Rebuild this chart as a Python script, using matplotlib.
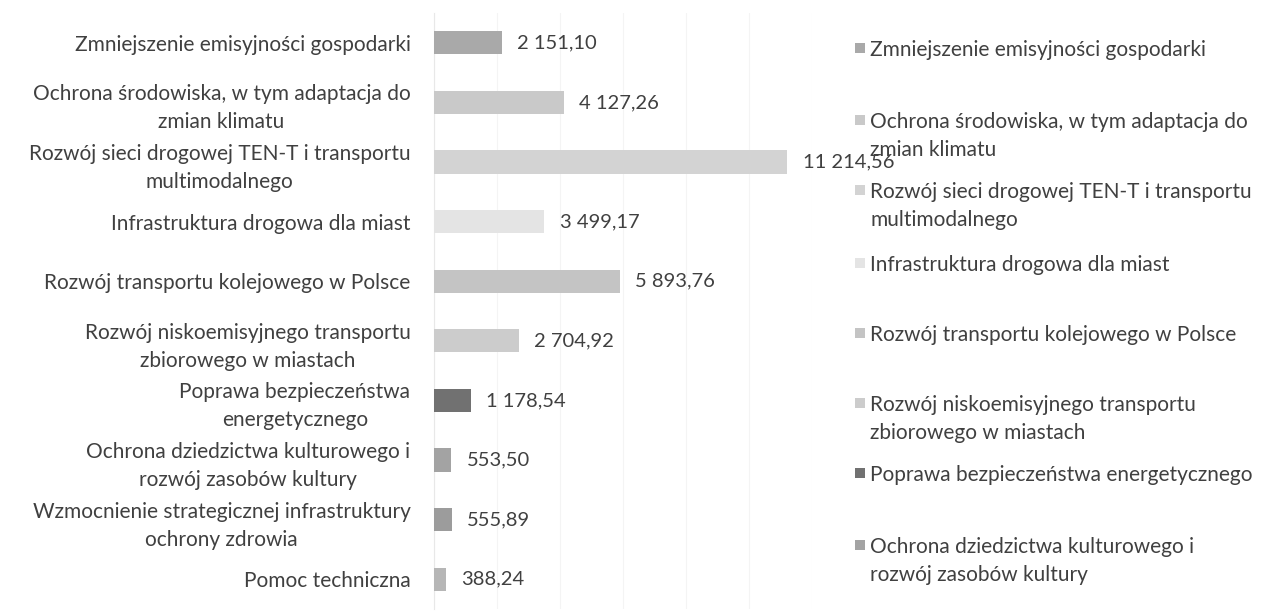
import matplotlib
matplotlib.use("Agg")
import matplotlib.pyplot as plt
from matplotlib.patches import Rectangle

plt.rcParams['font.family'] = ['Lato', 'DejaVu Sans']

categories = [
    "Zmniejszenie emisyjności gospodarki",
    "Ochrona środowiska, w tym adaptacja do\nzmian klimatu",
    "Rozwój sieci drogowej TEN-T i transportu\nmultimodalnego",
    "Infrastruktura drogowa dla miast",
    "Rozwój transportu kolejowego w Polsce",
    "Rozwój niskoemisyjnego transportu\nzbiorowego w miastach",
    "Poprawa bezpieczeństwa\nenergetycznego",
    "Ochrona dziedzictwa kulturowego i\nrozwój zasobów kultury",
    "Wzmocnienie strategicznej infrastruktury\nochrony zdrowia",
    "Pomoc techniczna",
]
legend_labels = [
    "Zmniejszenie emisyjności gospodarki",
    "Ochrona środowiska, w tym adaptacja do\nzmian klimatu",
    "Rozwój sieci drogowej TEN-T i transportu\nmultimodalnego",
    "Infrastruktura drogowa dla miast",
    "Rozwój transportu kolejowego w Polsce",
    "Rozwój niskoemisyjnego transportu\nzbiorowego w miastach",
    "Poprawa bezpieczeństwa energetycznego",
    "Ochrona dziedzictwa kulturowego i\nrozwój zasobów kultury",
]
values = [2151.10, 4127.26, 11214.56, 3499.17, 5893.76, 2704.92, 1178.54, 553.50, 555.89, 388.24]
colors = ["#a9a9a9", "#c9c9c9", "#d3d3d3", "#e4e4e4", "#c4c4c4",
          "#cccccc", "#717171", "#a3a3a3", "#9c9c9c", "#b6b6b6"]

W, H = 1261, 616
fig = plt.figure(figsize=(W / 100, H / 100), dpi=100)
ax = fig.add_axes([434 / W, 1 - 609 / H, (812 - 434) / W, (609 - 13) / H])

ypos = list(range(len(values)))
bars = ax.barh(ypos, values, height=0.39, color=colors, zorder=3)
ax.set_ylim(len(values) - 0.5, -0.5)
ax.set_xlim(0, 12000)
ax.set_xticks(range(0, 12001, 2000))
ax.xaxis.grid(True, color="#f4f4f4", linewidth=0.8, zorder=0)
ax.tick_params(axis="x", length=0, labelbottom=False)
ax.tick_params(axis="y", length=0, pad=17, labelsize=15, labelcolor="#404040")
ax.set_yticks(ypos)
ax.set_yticklabels(categories, multialignment="center", linespacing=1.5)
for s in ["top", "right", "bottom"]:
    ax.spines[s].set_visible(False)
ax.spines["left"].set_color("#e8e8e8")

fmt = [f"{v:,.2f}".replace(",", " ").replace(".", ",") for v in values]
ax.bar_label(bars, labels=fmt, padding=11, fontsize=14.5, color="#404040")

# legend (only the first entries fit, as in the reference)
leg_first_line_y = [48, 120, 190, 263, 333, 403, 473, 545]
for lab, col, yc in zip(legend_labels, colors, leg_first_line_y):
    fig.text(870 / W, 1 - (yc - 8) / H, lab, fontsize=15, color="#404040",
             va="top", ha="left", linespacing=1.5)
    fig.add_artist(Rectangle((855 / W, 1 - (yc + 5) / H), 10 / W, 10 / H,
                             transform=fig.transFigure, facecolor=col,
                             edgecolor="none"))

fig.savefig("out.png", dpi=100, facecolor="white")
